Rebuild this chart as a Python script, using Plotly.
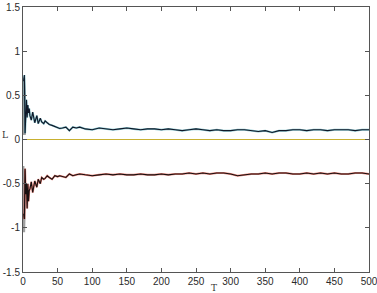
import plotly.graph_objects as go

# Time steps
T = [1, 2, 3, 4, 5, 6, 7, 8, 9, 10, 12, 14, 17, 20, 22, 25, 27, 30, 32, 35, 38, 42, 46, 50,
     53, 57, 62, 67, 72, 77, 82, 90, 100, 110, 120, 130, 140, 150, 160, 170, 180, 190,
     200, 210, 220, 230, 240, 250, 260, 270, 280, 290, 300, 310, 320, 330, 340, 350,
     360, 370, 380, 390, 400, 410, 420, 430, 440, 450, 460, 470, 480, 490, 500]

# Upper series (L > 0)
upper = [0.66, 0.73, 0.07, 0.30, 0.45, 0.25, 0.39, 0.30, 0.35, 0.27, 0.22, 0.31, 0.19, 0.27,
         0.18, 0.24, 0.20, 0.18, 0.21, 0.19, 0.17, 0.16, 0.15, 0.14,
         0.125, 0.13, 0.14, 0.10, 0.14, 0.13, 0.14, 0.12, 0.11, 0.13, 0.12, 0.11, 0.12, 0.13,
         0.12, 0.11, 0.12, 0.12, 0.11, 0.12, 0.11, 0.10, 0.11, 0.12, 0.11, 0.10, 0.11, 0.10,
         0.10, 0.11, 0.11, 0.10, 0.09, 0.10, 0.08, 0.10, 0.10, 0.11, 0.11, 0.10, 0.11, 0.11,
         0.10, 0.11, 0.11, 0.11, 0.10, 0.11, 0.11]

# Lower series (L < 0)
lower = [-0.84, -0.90, -0.33, -0.62, -0.50, -0.78, -0.50, -0.70, -0.58, -0.56, -0.48, -0.60,
         -0.47, -0.54, -0.45, -0.50, -0.43, -0.45, -0.44, -0.41, -0.43, -0.45, -0.41, -0.42,
         -0.41, -0.42, -0.43, -0.39, -0.41, -0.40, -0.39, -0.40, -0.41, -0.40, -0.39, -0.40,
         -0.39, -0.40, -0.40, -0.39, -0.40, -0.40, -0.39, -0.40, -0.39, -0.39, -0.38, -0.39,
         -0.38, -0.39, -0.38, -0.38, -0.39, -0.41, -0.40, -0.39, -0.39, -0.38, -0.39, -0.38,
         -0.38, -0.39, -0.39, -0.38, -0.39, -0.38, -0.39, -0.38, -0.39, -0.39, -0.38, -0.38, -0.39]

# Early transient spikes (gray)
spikeT = [1, 1, 2, 3, 3]
spike_up = [0.70, 0.05, 0.70, 0.52, 0.05]
spike_lo = [-1.05, -0.30, -1.05, -0.75, -0.35]

zero_T = [0, 500]
zero_v = [0, 0]

yticks = [1.5, 1, 0.5, 0, -0.5, -1, -1.5]
yticktext = ["1.5", "1", "0.5", "0", "-0.5", "-1", "-1.5"]
xticks = [0, 50, 100, 150, 200, 250, 300, 350, 400, 450, 500]

fig = go.Figure()
fig.add_trace(go.Scatter(x=zero_T, y=zero_v, mode="lines",
                         line=dict(color="#c8b030", width=1.2), hoverinfo="skip"))
fig.add_trace(go.Scatter(x=spikeT, y=spike_up, mode="lines",
                         line=dict(color="#a0a0a0", width=1.5)))
fig.add_trace(go.Scatter(x=spikeT, y=spike_lo, mode="lines",
                         line=dict(color="#a0a0a0", width=1.5)))
fig.add_trace(go.Scatter(x=T, y=upper, mode="lines", opacity=0.6,
                         line=dict(color="#3aa0b0", width=2)))
fig.add_trace(go.Scatter(x=T, y=upper, mode="lines",
                         line=dict(color="#101828", width=1.1)))
fig.add_trace(go.Scatter(x=T, y=lower, mode="lines", opacity=0.6,
                         line=dict(color="#d83020", width=2)))
fig.add_trace(go.Scatter(x=T, y=lower, mode="lines",
                         line=dict(color="#181010", width=1.1)))

axis_common = dict(showgrid=False, zeroline=False, showline=True, linecolor="#555555",
                   linewidth=1, mirror="ticks", ticks="inside", ticklen=4,
                   tickcolor="#555555", automargin=False, ticklabeloverflow="allow",
                   tickfont=dict(family="Liberation Sans, Arial", size=10, color="#2a2a2a"))

W, H = 377, 293
l, r, t, b = 23, 8, 7, 21
pw, ph = W - l - r, H - t - b

fig.update_layout(
    width=W, height=H,
    margin=dict(l=l, r=r, t=t, b=b, pad=0),
    paper_bgcolor="white", plot_bgcolor="white",
    showlegend=False,
    xaxis=dict(range=[0, 500], tickvals=xticks, **axis_common),
    yaxis=dict(range=[-1.5, 1.5], tickvals=yticks, ticktext=yticktext, **axis_common),
    annotations=[
        dict(text="L", x=(5 - l) / pw, y=(H - b - 135) / ph, xref="paper", yref="paper",
             xanchor="center", yanchor="middle",
             showarrow=False, font=dict(family="DejaVu Serif", size=9, color="#333333")),
        dict(text="T", x=(214 - l) / pw, y=(H - b - 288) / ph, xref="paper", yref="paper",
             xanchor="center", yanchor="middle",
             showarrow=False, font=dict(family="DejaVu Serif", size=9, color="#333333")),
    ],
)

fig.write_html("out.html", config={"displayModeBar": False},
               post_script="document.body.style.margin='0';document.body.style.overflow='hidden';")
